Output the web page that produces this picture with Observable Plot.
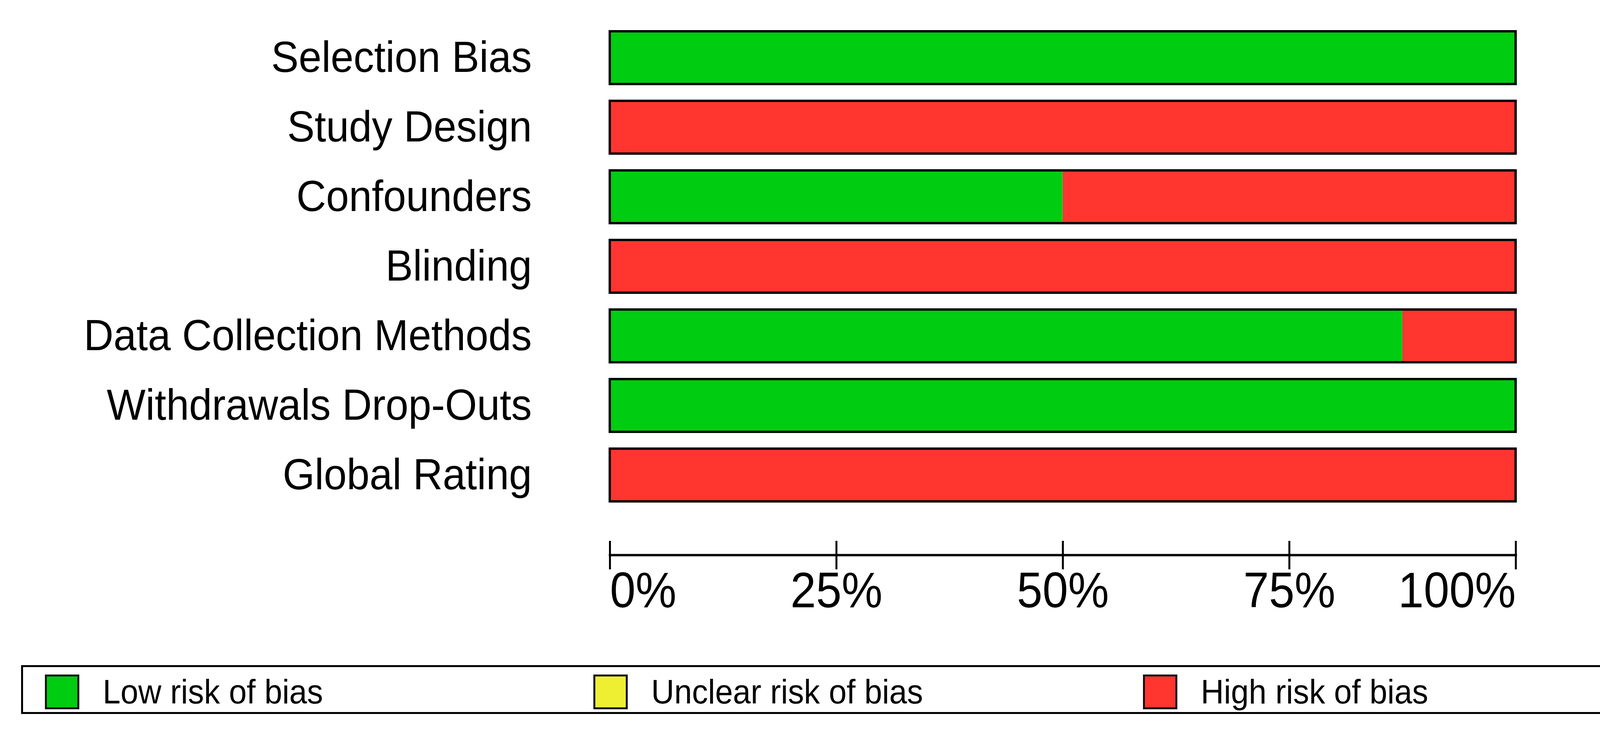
<!DOCTYPE html>
<html><head><meta charset="utf-8">
<script src="https://cdn.jsdelivr.net/npm/d3@7"></script>
<script src="https://cdn.jsdelivr.net/npm/@observablehq/plot@0.6"></script>
<style>
html,body{margin:0;padding:0;background:#fff;}
body{width:4310px;height:1868px;position:relative;font-family:"Liberation Sans",Arial,Helvetica,sans-serif;}
#legend{position:absolute;left:54px;top:1702px;width:4219px;height:125px;box-sizing:border-box;border:5px solid #000;}
.item{position:absolute;top:12px;display:flex;align-items:center;}
.sw{width:88px;height:89px;box-sizing:border-box;border:5px solid #111;margin-right:60px;flex:none;}
.lab{font-size:88px;color:#000;display:inline-block;transform:scaleX(0.93);transform-origin:left center;white-space:nowrap;}
</style></head>
<body><div id="chart"></div><div id="legend"></div>
<script>
const domains = ["Selection Bias","Study Design","Confounders","Blinding","Data Collection Methods","Withdrawals Drop-Outs","Global Rating"];
const lowRisk =     [100,   0, 50,   0, 87.5, 100,   0];
const unclearRisk = [  0,   0,  0,   0,  0,     0,   0];
const highRisk =    [  0, 100, 50, 100, 12.5,   0, 100];
const riskLevels = ["Low risk of bias","Unclear risk of bias","High risk of bias"];
const riskColors = ["#00cc11","#eeee33","#ff3530"];
const tickValues = [0,25,50,75,100];
const tickLabels = ["0%","25%","50%","75%","100%"];

const series = [lowRisk, unclearRisk, highRisk];
const rows = domains.flatMap((d,i)=>riskLevels.map((r,k)=>({domain:d, risk:r, value:series[k][i]})));
const totals = domains.map((d,i)=>({domain:d, total: lowRisk[i]+unclearRisk[i]+highRisk[i]}));
const ticks = tickValues.map((v,i)=>({v, label: tickLabels[i]}));

const W = 4310, H = 1600, axisY = 1420;
const tickText = {x: "v", text: "label", frameAnchor: "bottom", lineAnchor: "top", dy: 43, fontSize: 128, fill: "#000", className: "ticklab"};
const chart = Plot.plot({
  width: W, height: H,
  marginLeft: 1561, marginRight: 430, marginTop: 0, marginBottom: H - axisY,
  style: {fontFamily: '"Liberation Sans", Arial, Helvetica, sans-serif', background: "#fff", color: "#000"},
  x: {domain: [0,100], axis: null},
  y: {domain: domains, range: [57, 1306], paddingInner: 0.24, paddingOuter: 0.12},
  color: {domain: riskLevels, range: riskColors},
  marks: [
    Plot.barX(rows, {x: "value", y: "domain", fill: "risk"}),
    Plot.barX(totals, {x: "total", y: "domain", fill: "none", stroke: "#000", strokeWidth: 6}),
    Plot.axisY({tickSize: 0, tickPadding: 200, fontSize: 112, fill: "#000", label: null, className: "catlab"}),
    Plot.frame({anchor: "bottom", stroke: "#000", strokeWidth: 6}),
    Plot.tickX(ticks, {x: "v", stroke: "#000", strokeWidth: 5, insetTop: axisY - 36, insetBottom: -37}),
    Plot.text(ticks.slice(0,1), {...tickText, textAnchor: "start"}),
    Plot.text(ticks.slice(1,-1), {...tickText, textAnchor: "middle"}),
    Plot.text(ticks.slice(-1), {...tickText, textAnchor: "end"})
  ]
});
// the reference typeface is slightly condensed horizontally
function squeezeText(sel, s) {
  d3.select(chart).selectAll(sel).each(function(){
    const t = this.getAttribute("transform");
    if (t) this.setAttribute("transform", t + ` scale(${s},1)`);
  });
}
squeezeText(".catlab text", 0.94);
squeezeText(".ticklab text", 0.92);
document.getElementById("chart").appendChild(chart);

const legend = d3.select("#legend");
const itemLeft = [56, 1460, 2867];
riskLevels.forEach((r,k)=>{
  const it = legend.append("div").attr("class","item").style("left", itemLeft[k] + "px");
  it.append("div").attr("class","sw").style("background", riskColors[k]);
  it.append("span").attr("class","lab").text(r);
});
</script>
</body></html>
